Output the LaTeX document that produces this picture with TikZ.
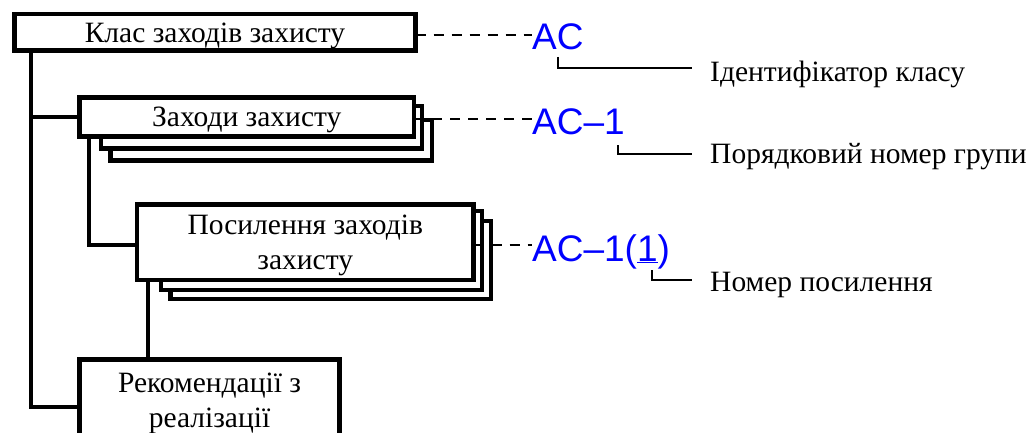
\documentclass[tikz,border=0pt]{standalone}
\usepackage{fontspec}
\setmainfont{Liberation Serif}
\newfontfamily\labelsans{Liberation Sans}
\definecolor{codeblue}{RGB}{0,0,255}
\begin{document}
\begin{tikzpicture}[x=1pt,y=-1pt,
  box/.style={draw, line width=4.5pt, fill=white, inner sep=0pt, outer sep=0pt,
    align=center, text depth=0pt, font=\fontsize{29.5}{34.5}\selectfont},
  shadowbox/.style={draw, line width=4.5pt, fill=white},
  link/.style={line width=4pt},
  dashlink/.style={line width=2pt, dash pattern=on 10pt off 8pt},
  bracket/.style={line width=2pt},
  code/.style={inner sep=0pt, text=codeblue, font=\labelsans\fontsize{37}{40}\selectfont},
  note/.style={inner sep=0pt, font=\fontsize{29.5}{34}\selectfont}]
\useasboundingbox (0,0) rectangle (1027,433);
\clip (0,0) rectangle (1027,433);

% stacked copies behind the group box
\draw[shadowbox] (110.5,120) rectangle (432,160.5);
\draw[shadowbox] (101,106) rectangle (422,148.5);
% stacked copies behind the enhancement box
\draw[shadowbox] (170.5,221) rectangle (491,299);
\draw[shadowbox] (161,211) rectangle (482,290);

% main boxes
\node[box, minimum width=401pt, minimum height=36.5pt] (box1) at (215,32.25) {Клас заходів захисту};
\node[box, minimum width=334.5pt, minimum height=39pt] (box2) at (246.75,117) {Заходи захисту};
\node[box, minimum width=336.5pt, minimum height=75.5pt] (box3) at (305.25,242.25) {Посилення заходів\\захисту};
\node[box, minimum width=260pt, minimum height=81pt] (box4) at (209.5,400) {Рекомендації з\\реалізації};

% tree connectors
\draw[link] ([xshift=16pt]box1.south west) |- ([yshift=-7pt]box4.west);
\draw[link] ([xshift=16pt]box1.south west |- box2.west) -- (box2.west);
\draw[link] ([xshift=9pt]box2.south west) |- ([yshift=-2.75pt]box3.west);
\draw[link] ([xshift=11pt]box3.south west) -- ([xshift=11pt]box3.south west |- box4.north);

% identifiers
\node[code, anchor=base west] (ac) at (532,50) {AC};
\node[code, anchor=base west] (ac1) at (532,135) {AC–1};
\node[code, anchor=base west] (ac11) at (532,261) {AC–1(\underline{1})};

\draw[dashlink] ([yshift=-2.5pt]box1.east) -- ([yshift=-2.5pt]box1.east -| ac.west);
\draw[dashlink] ([yshift=-2.5pt]box2.east) -- ([yshift=-2.5pt]box2.east -| ac1.west);
\draw[dashlink] ([yshift=-2.5pt]box3.east) -- ([yshift=-2.5pt]box3.east -| ac11.west);

% explanations
\node[note, anchor=base west] (n1) at (710,82) {Ідентифікатор класу};
\node[note, anchor=base west] (n2) at (710,163) {Порядковий номер групи};
\node[note, anchor=base west] (n3) at (710,291) {Номер посилення};

\draw[bracket] ([xshift=26pt,yshift=-7pt]ac.base west) |- ([xshift=-18pt,yshift=14pt]n1.base west);
\draw[bracket] ([xshift=86pt,yshift=-10pt]ac1.base west) |- ([xshift=-18pt,yshift=9pt]n2.base west);
\draw[bracket] ([xshift=120pt,yshift=-9pt]ac11.base west) |- ([xshift=-18pt,yshift=11pt]n3.base west);
\end{tikzpicture}
\end{document}
